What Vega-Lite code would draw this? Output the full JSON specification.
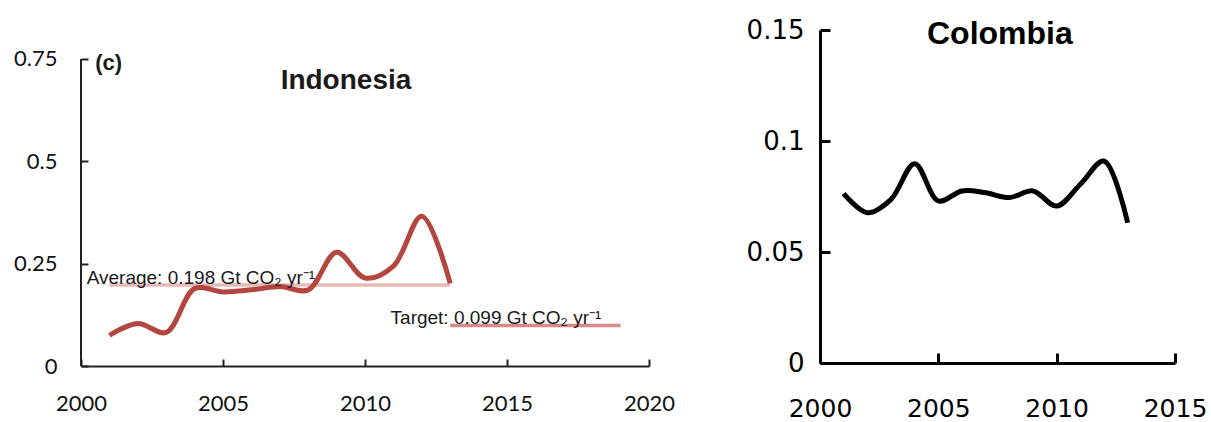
{
  "$schema": "https://vega.github.io/schema/vega-lite/v6.json",
  "background": "white",
  "padding": {"left": 13, "top": 17, "right": 0, "bottom": 0},
  "config": {"view": {"stroke": null}, "concat": {"spacing": 71}},
  "datasets": {
    "indonesia": [
      {"year": 2001, "value": 0.075},
      {"year": 2002, "value": 0.104},
      {"year": 2003, "value": 0.082},
      {"year": 2004, "value": 0.189},
      {"year": 2005, "value": 0.181},
      {"year": 2006, "value": 0.186},
      {"year": 2007, "value": 0.194},
      {"year": 2008, "value": 0.186},
      {"year": 2009, "value": 0.278},
      {"year": 2010, "value": 0.215},
      {"year": 2011, "value": 0.244},
      {"year": 2012, "value": 0.366},
      {"year": 2013, "value": 0.202}
    ],
    "refs": [
      {"kind": "Average", "year": 2001, "value": 0.198},
      {"kind": "Average", "year": 2013, "value": 0.198},
      {"kind": "Target", "year": 2013, "value": 0.099},
      {"kind": "Target", "year": 2019, "value": 0.099}
    ],
    "notes": [
      {"label": "Average: 0.198 Gt CO₂ yr⁻¹", "year": 2000.2, "value": 0.2},
      {"label": "Target: 0.099 Gt CO₂ yr⁻¹", "year": 2010.9, "value": 0.103}
    ],
    "colombia": [
      {"year": 2001, "value": 0.0763},
      {"year": 2002, "value": 0.0677},
      {"year": 2003, "value": 0.0737},
      {"year": 2004, "value": 0.0898},
      {"year": 2005, "value": 0.0730},
      {"year": 2006, "value": 0.0775},
      {"year": 2007, "value": 0.0767},
      {"year": 2008, "value": 0.0745},
      {"year": 2009, "value": 0.0775},
      {"year": 2010, "value": 0.0707},
      {"year": 2011, "value": 0.0805},
      {"year": 2012, "value": 0.0910},
      {"year": 2013, "value": 0.0632}
    ]
  },
  "hconcat": [
    {
      "width": 568,
      "height": 336,
      "layer": [
        {
          "data": {"values": [{}]},
          "mark": {"type": "rule", "color": "#222", "strokeWidth": 2},
          "encoding": {
            "x": {"datum": 2000, "type": "quantitative", "scale": {"domain": [2000, 2020], "nice": false, "zero": false},
              "axis": {"values": [2000, 2005, 2010, 2015, 2020], "format": "d", "title": null, "grid": false, "tickSize": -7, "labelPadding": 34, "domainColor": "#222", "domainWidth": 2, "tickColor": "#222", "tickWidth": 2, "labelFont": "Lato", "labelFontSize": 22, "labelColor": "#111", "labelFlush": false}},
            "y": {"datum": 0, "type": "quantitative", "scale": {"domain": [0, 0.8208], "nice": false, "zero": false},
              "axis": {"values": [0, 0.25, 0.5, 0.75], "format": ".2~f", "title": null, "grid": false, "domain": false, "tickSize": -7, "labelPadding": 31, "tickColor": "#222", "tickWidth": 2, "labelFont": "Lato", "labelFontSize": 22, "labelColor": "#111", "labelFlush": false}},
            "y2": {"datum": 0.75}
          }
        },
        {
          "data": {"name": "refs"},
          "mark": {"type": "line", "strokeWidth": 3.5},
          "encoding": {
            "x": {"field": "year", "type": "quantitative"},
            "y": {"field": "value", "type": "quantitative"},
            "color": {"field": "kind", "type": "nominal", "scale": {"domain": ["Average", "Target"], "range": ["#e9b9b9", "#d8898a"]}, "legend": null}
          }
        },
        {
          "data": {"name": "indonesia"},
          "mark": {"type": "line", "interpolate": "catmull-rom", "color": "#b3473f", "strokeWidth": 5},
          "encoding": {
            "x": {"field": "year", "type": "quantitative"},
            "y": {"field": "value", "type": "quantitative"}
          }
        },
        {
          "data": {"name": "notes"},
          "mark": {"type": "text", "align": "left", "baseline": "alphabetic", "font": "Liberation Sans", "fontSize": 19, "color": "#1a1a1a"},
          "encoding": {
            "x": {"field": "year", "type": "quantitative"},
            "y": {"field": "value", "type": "quantitative"},
            "text": {"field": "label"}
          }
        },
        {
          "data": {"values": [{}]},
          "mark": {"type": "text", "text": "(c)", "align": "left", "baseline": "middle", "font": "Liberation Sans", "fontSize": 22, "fontWeight": "bold", "color": "#1a1a1a"},
          "encoding": {
            "x": {"datum": 2000.5, "type": "quantitative"},
            "y": {"datum": 0.74, "type": "quantitative"}
          }
        },
        {
          "data": {"values": [{}]},
          "mark": {"type": "text", "text": "Indonesia", "align": "center", "baseline": "alphabetic", "font": "Liberation Sans", "fontSize": 28, "fontWeight": "bold", "color": "#1a1a1a"},
          "encoding": {
            "x": {"datum": 2009.33, "type": "quantitative"},
            "y": {"datum": 0.677, "type": "quantitative"}
          }
        }
      ]
    },
    {
      "width": 355,
      "height": 333,
      "layer": [
        {
          "data": {"name": "colombia"},
          "mark": {"type": "line", "interpolate": "catmull-rom", "color": "#000", "strokeWidth": 5},
          "encoding": {
            "x": {"field": "year", "type": "quantitative", "scale": {"domain": [2000, 2015], "nice": false, "zero": false},
              "axis": {"values": [2000, 2005, 2010, 2015], "format": "d", "title": null, "grid": false, "tickSize": -10, "labelPadding": 43, "domainColor": "#000", "domainWidth": 3, "tickColor": "#000", "tickWidth": 3, "labelFont": "DejaVu Sans", "labelFontSize": 25, "labelColor": "#000", "labelFlush": false}},
            "y": {"field": "value", "type": "quantitative", "scale": {"domain": [0, 0.15], "nice": false},
              "axis": {"values": [0, 0.05, 0.1, 0.15], "format": ".2~f", "title": null, "grid": false, "tickSize": -10, "labelPadding": 26, "domainColor": "#000", "domainWidth": 3, "tickColor": "#000", "tickWidth": 3, "labelFont": "DejaVu Sans", "labelFontSize": 26, "labelColor": "#000", "labelFlush": false}}
          }
        },
        {
          "data": {"values": [{}]},
          "mark": {"type": "text", "text": "Colombia", "align": "center", "baseline": "alphabetic", "font": "Liberation Sans", "fontSize": 32, "fontWeight": "bold", "color": "#000"},
          "encoding": {
            "x": {"datum": 2007.6, "type": "quantitative"},
            "y": {"datum": 0.1437, "type": "quantitative"}
          }
        }
      ]
    }
  ]
}
